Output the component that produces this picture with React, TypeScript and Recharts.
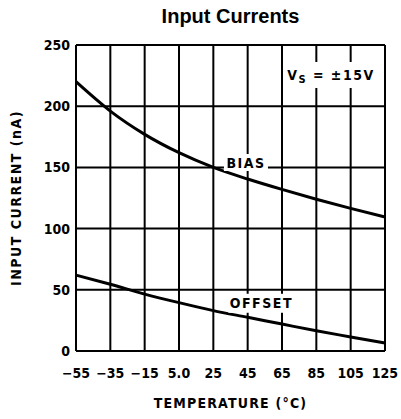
import React from 'react';
import { LineChart, Line, XAxis, YAxis, CartesianGrid, ReferenceDot } from 'recharts';

// temperature in °C
const temps = [-55, -35, -15, 5, 25, 45, 65, 85, 105, 125];
// input bias current (nA)
const bias = [220, 196, 177, 162, 150, 140.5, 132, 124, 116.5, 109.5];
// input offset current (nA)
const offset = [62, 54.5, 46.5, 39.5, 33, 27.5, 22, 16.5, 11.5, 6.5];

const yTicks = [0, 50, 100, 150, 200, 250];

const data = temps.map((t, i) => ({ t, bias: bias[i], offset: offset[i] }));

const NARROW = '"Liberation Sans Narrow", "DejaVu Sans Condensed", Arial, sans-serif';
const W = 401;
const H = 419;

const fmtTemp = (v: number) => {
    if (v === 5) return '5.0';
    return v < 0 ? `\u2212${Math.abs(v)}` : `${v}`;
};

// white box + text, drawn around a data point
const boxLabel = (text: React.ReactNode, bw: number, bh: number) => (p: any) => (
    <g>
        <rect x={p.cx - bw / 2} y={p.cy - bh / 2} width={bw} height={bh} fill="#fff" />
        <text
            x={p.cx}
            y={p.cy}
            textAnchor="middle"
            dominantBaseline="central"
            fontFamily={NARROW}
            fontWeight="bold"
            fontSize={14}
            letterSpacing={1.5}
            fill="#000"
        >
            {text}
        </text>
    </g>
);

const tickStyle = { fill: '#000', fontFamily: NARROW, fontWeight: 'bold', fontSize: 14 };

export default function App() {
    return (
        <div style={{ position: 'absolute', left: 0, top: 0, width: W, height: H, background: '#fff' }}>
            <div
                style={{
                    position: 'absolute',
                    left: 76,
                    width: 309,
                    top: 6,
                    textAlign: 'center',
                    fontFamily: '"Liberation Sans", Arial, sans-serif',
                    fontWeight: 'bold',
                    fontSize: 20,
                    lineHeight: '20px',
                    color: '#000',
                }}
            >
                Input Currents
            </div>
            <LineChart width={W} height={H} data={data} margin={{ top: 45, right: 16, bottom: 38, left: 0 }}>
                <CartesianGrid stroke="#000" strokeWidth={2} />
                <XAxis
                    dataKey="t"
                    type="number"
                    domain={[-55, 125]}
                    ticks={temps}
                    tickFormatter={fmtTemp}
                    interval={0}
                    height={30}
                    tickLine={false}
                    tickSize={0}
                    tickMargin={17}
                    axisLine={{ stroke: '#000', strokeWidth: 2 }}
                    tick={tickStyle}
                    label={{
                        content: (props: any) => {
                            const vb = props.viewBox;
                            return (
                                <text
                                    x={vb.x + vb.width / 2}
                                    y={403}
                                    textAnchor="middle"
                                    dominantBaseline="central"
                                    fontFamily={NARROW}
                                    fontWeight="bold"
                                    fontSize={14}
                                    letterSpacing={1.2}
                                    fill="#000"
                                >
                                    TEMPERATURE (°C)
                                </text>
                            );
                        },
                    }}
                />
                <YAxis
                    type="number"
                    domain={[0, 250]}
                    ticks={yTicks}
                    interval={0}
                    width={76}
                    tickLine={false}
                    tickSize={0}
                    tickMargin={6}
                    axisLine={{ stroke: '#000', strokeWidth: 2 }}
                    tick={tickStyle}
                    label={{
                        content: (props: any) => {
                            const vb = props.viewBox;
                            const cy = vb.y + vb.height / 2;
                            return (
                                <text
                                    x={16}
                                    y={cy}
                                    transform={`rotate(-90 16 ${cy})`}
                                    textAnchor="middle"
                                    dominantBaseline="central"
                                    fontFamily={NARROW}
                                    fontWeight="bold"
                                    fontSize={14}
                                    letterSpacing={1.5}
                                    fill="#000"
                                >
                                    INPUT CURRENT (nA)
                                </text>
                            );
                        },
                    }}
                />
                <ReferenceDot x={44} y={154} r={0} shape={boxLabel('BIAS', 44, 17)} />
                <ReferenceDot x={53} y={39} r={0} shape={boxLabel('OFFSET', 66, 19)} />
                <ReferenceDot
                    x={93.5}
                    y={225.5}
                    r={0}
                    shape={boxLabel(
                        <>
                            V<tspan fontSize={11} dy={4}>S</tspan>
                            <tspan dy={-4}> = ±15V</tspan>
                        </>,
                        80,
                        26
                    )}
                />
                <Line type="monotone" dataKey="bias" stroke="#000" strokeWidth={3} dot={false} isAnimationActive={false} />
                <Line type="monotone" dataKey="offset" stroke="#000" strokeWidth={3} dot={false} isAnimationActive={false} />
            </LineChart>
        </div>
    );
}
